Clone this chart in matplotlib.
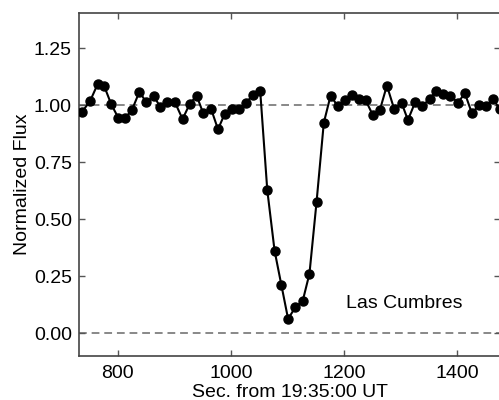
import matplotlib
matplotlib.use("Agg")
import matplotlib.pyplot as plt

plt.rcParams['font.family'] = ['Liberation Sans', 'DejaVu Sans']

# time (s from 19:35:00 UT) and normalized flux
times = [736.7, 750.9, 764.4, 775.8, 788.3, 800.7, 813.2, 825.0, 838.0, 850.5,
         863.5, 875.4, 887.8, 900.8, 914.5, 926.9, 939.4, 951.1, 964.8, 977.2,
         989.2, 1002.1, 1014.6, 1027.0, 1039.5, 1051.9, 1064.4, 1077.3, 1089.2, 1101.2,
         1114.1, 1127.1, 1139.0, 1151.5, 1164.4, 1176.4, 1189.3, 1201.8, 1213.7, 1226.1,
         1238.6, 1251.0, 1263.5, 1276.0, 1289.0, 1302.0, 1313.2, 1326.2, 1338.7, 1351.8,
         1363.6, 1376.0, 1388.4, 1401.6, 1414.0, 1426.5, 1438.9, 1451.4, 1463.8, 1475.6]
flux = [0.971, 1.018, 1.093, 1.084, 1.004, 0.945, 0.945, 0.979, 1.058, 1.013,
        1.040, 0.991, 1.014, 1.014, 0.939, 1.004, 1.042, 0.964, 0.985, 0.894,
        0.963, 0.983, 0.983, 1.011, 1.046, 1.061, 0.627, 0.362, 0.213, 0.063,
        0.114, 0.142, 0.261, 0.574, 0.923, 1.042, 0.995, 1.023, 1.045, 1.026,
        1.021, 0.957, 0.978, 1.086, 0.982, 1.010, 0.935, 1.014, 0.995, 1.029,
        1.062, 1.049, 1.042, 1.011, 1.052, 0.964, 1.001, 0.998, 1.027, 0.983]

x_ticks = [800, 1000, 1200, 1400]
y_ticks = [0.0, 0.25, 0.5, 0.75, 1.0, 1.25]

fig = plt.figure(figsize=(4.99, 4.0), dpi=100)
ax = fig.add_axes([0.158, 0.111, 0.845, 0.857])

ax.axhline(1.0, color='#888888', ls=(0, (4, 2.5)), lw=1.4, zorder=1)
ax.axhline(0.0, color='#888888', ls=(0, (4, 2.5)), lw=1.4, zorder=1)
ax.plot(times, flux, color='black', lw=1.5, marker='o', ms=6.5, zorder=3)

ax.text(1306, 0.13, 'Las Cumbres', fontsize=14, ha='center', va='center')

ax.set_xlim(731, 1477)
ax.set_ylim(-0.098, 1.405)
ax.set_xticks(x_ticks)
ax.set_yticks(y_ticks)
ax.set_yticklabels(['%.2f' % v for v in y_ticks])
ax.tick_params(direction='in', top=True, right=True, length=4, width=1,
               color='#555555', labelsize=14)
ax.tick_params(axis='x', pad=7)
ax.tick_params(axis='y', pad=5)
for s in ax.spines.values():
    s.set_color('#444444')
    s.set_linewidth(1.2)

ax.set_xlabel('Sec. from 19:35:00 UT', fontsize=14, labelpad=1)
ax.set_ylabel('Normalized Flux', fontsize=14, labelpad=2)

fig.savefig('out.png', dpi=100)
